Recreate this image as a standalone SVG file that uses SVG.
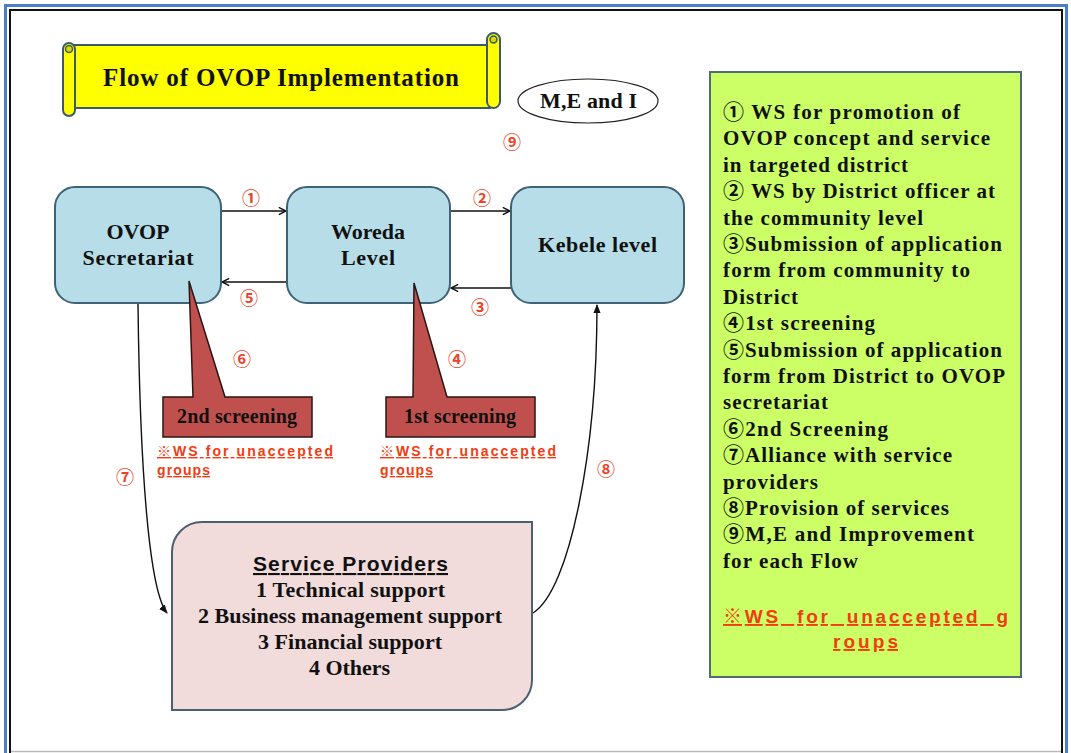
<svg xmlns="http://www.w3.org/2000/svg" width="1071" height="753" viewBox="0 0 1071 753">
  <style>
    .serif { font-family: "Liberation Serif", "Noto Sans CJK JP", serif; font-weight: bold; fill: #111; }
    .sans { font-family: "Liberation Sans", "Noto Sans CJK JP", sans-serif; font-weight: bold; }
    .num { font-family: "Noto Sans CJK JP", "DejaVu Sans", sans-serif; font-size: 18px; font-weight: bold; fill: #E8452A; text-anchor: middle; }
    .box { fill: #B7DEE8; stroke: #3E6276; stroke-width: 2; }
    .callout { fill: #C0504D; stroke: #2A1414; stroke-width: 1.5; }
    .warn { font-family: "Liberation Sans", "Noto Sans CJK JP", sans-serif; font-weight: bold; font-size: 14px; fill: #F23C12; text-decoration: underline; }
    .conn { fill: none; stroke: #111; stroke-width: 1.4; }
    .legend { font-size: 21px; }
  </style>
  <defs>
    <marker id="openHead" viewBox="0 0 10 10" refX="9" refY="5" markerWidth="9" markerHeight="9" orient="auto" markerUnits="userSpaceOnUse">
      <path d="M1,1 L9,5 L1,9" fill="none" stroke="#111" stroke-width="1.6"/>
    </marker>
    <marker id="solidHead" viewBox="0 0 10 10" refX="9" refY="5" markerWidth="9" markerHeight="9" orient="auto" markerUnits="userSpaceOnUse">
      <path d="M0,1 L10,5 L0,9 Z" fill="#111"/>
    </marker>
  </defs>

  <!-- page background and double frame -->
  <rect x="0" y="0" width="1071" height="753" fill="#ffffff"/>
  <rect x="5.5" y="5.5" width="1061" height="760" fill="none" stroke="#4A7EC9" stroke-width="3"/>
  <rect x="10" y="10" width="1052" height="752" fill="none" stroke="#111" stroke-width="2"/>
  <line x1="11" y1="751.5" x2="1061" y2="751.5" stroke="#BBBBBB" stroke-width="1.5"/>

  <!-- title scroll -->
  <g id="title">
    <rect x="72" y="45" width="418" height="63" fill="#FFFF00" stroke="#3B5A6B" stroke-width="2"/>
    <rect x="487" y="33" width="13" height="75" rx="6.5" fill="#FFFF00" stroke="#3B5A6B" stroke-width="2"/>
    <circle cx="493.5" cy="39.5" r="3.5" fill="#D8D800" stroke="#3B5A6B" stroke-width="1.5"/>
    <rect x="63" y="43" width="12" height="73" rx="6" fill="#FFFF00" stroke="#3B5A6B" stroke-width="2"/>
    <circle cx="69" cy="49" r="3.5" fill="#D8D800" stroke="#3B5A6B" stroke-width="1.5"/>
    <text class="serif" x="103" y="86" font-size="25" textLength="356" lengthAdjust="spacing">Flow of OVOP Implementation</text>
  </g>

  <!-- monitoring ellipse -->
  <g id="monitoring">
    <ellipse cx="588" cy="101" rx="70" ry="22" fill="#fff" stroke="#222" stroke-width="1.2"/>
    <text class="serif" x="540" y="108" font-size="22" textLength="97" lengthAdjust="spacing">M,E and I</text>
    <text class="num" x="512" y="149">⑨</text>
  </g>

  <!-- connectors -->
  <g id="connectors">
    <line class="conn" x1="221" y1="211" x2="286" y2="211" marker-end="url(#openHead)"/>
    <line class="conn" x1="450" y1="211" x2="510" y2="211" marker-end="url(#openHead)"/>
    <line class="conn" x1="287" y1="282" x2="222" y2="282" marker-end="url(#openHead)"/>
    <line class="conn" x1="511" y1="288" x2="451" y2="288" marker-end="url(#openHead)"/>
    <path class="conn" d="M138,304 C140,480 150,592 167,613" marker-end="url(#solidHead)"/>
    <path class="conn" d="M533,613 C570,590 597,450 597,305" marker-end="url(#solidHead)"/>
  </g>

  <!-- flow step numbers -->
  <g id="step-numbers">
    <text class="num" x="251" y="205">①</text>
    <text class="num" x="482" y="205">②</text>
    <text class="num" x="480" y="314">③</text>
    <text class="num" x="457" y="366">④</text>
    <text class="num" x="249" y="305">⑤</text>
    <text class="num" x="242" y="366">⑥</text>
    <text class="num" x="125" y="484">⑦</text>
    <text class="num" x="606" y="476">⑧</text>
  </g>

  <g id="ovop-secretariat">
    <rect class="box" x="55" y="187" width="166" height="116" rx="20"/>
    <text class="serif" x="106.5" y="239" font-size="22" textLength="63" lengthAdjust="spacing">OVOP</text>
    <text class="serif" x="82.5" y="265" font-size="22" textLength="111" lengthAdjust="spacing">Secretariat</text>
  </g>

  <g id="woreda-level">
    <rect class="box" x="287" y="187" width="163" height="116" rx="20"/>
    <text class="serif" x="331" y="239" font-size="22" textLength="74" lengthAdjust="spacing">Woreda</text>
    <text class="serif" x="341" y="265" font-size="22" textLength="54" lengthAdjust="spacing">Level</text>
  </g>

  <g id="kebele-level">
    <rect class="box" x="511" y="187" width="173" height="116" rx="20"/>
    <text class="serif" x="538" y="252" font-size="22" textLength="119" lengthAdjust="spacing">Kebele level</text>
  </g>

  <g id="second-screening">
    <path class="callout" d="M163,397 H193 L189,281 L225,397 H312 V437 H163 Z"/>
    <text class="serif" x="177" y="423" font-size="20" textLength="120" lengthAdjust="spacing">2nd screening</text>
    <text class="warn" x="157" y="456" textLength="176" lengthAdjust="spacing">※WS for unaccepted</text>
    <text class="warn" x="157" y="475" textLength="53" lengthAdjust="spacing">groups</text>
  </g>

  <g id="first-screening">
    <path class="callout" d="M386,397 H413 L414,283 L447,397 H535 V437 H386 Z"/>
    <text class="serif" x="404" y="423" font-size="20" textLength="112" lengthAdjust="spacing">1st screening</text>
    <text class="warn" x="380" y="456" textLength="176" lengthAdjust="spacing">※WS for unaccepted</text>
    <text class="warn" x="380" y="475" textLength="53" lengthAdjust="spacing">groups</text>
  </g>

  <g id="service-providers">
    <path d="M202,522 H532 V680 A30,30 0 0 1 502,710 H172 V552 A30,30 0 0 1 202,522 Z" fill="#F2DCDB" stroke="#4A6072" stroke-width="2"/>
    <text class="sans" x="253" y="571" font-size="21" fill="#111" text-decoration="underline" textLength="195" lengthAdjust="spacing">Service  Providers</text>
    <text class="serif" x="256" y="597" font-size="22" textLength="189" lengthAdjust="spacing">1 Technical support</text>
    <text class="serif" x="198" y="623" font-size="22" textLength="304" lengthAdjust="spacing">2 Business management support</text>
    <text class="serif" x="258" y="649" font-size="22" textLength="184" lengthAdjust="spacing">3 Financial support</text>
    <text class="serif" x="309" y="675" font-size="22" textLength="81" lengthAdjust="spacing">4 Others</text>
  </g>

  <g id="legend">
    <rect x="710" y="72" width="311" height="605" fill="#CCFF66" stroke="#506A78" stroke-width="2"/>
    <g class="serif legend">
      <text x="723" y="119" textLength="237" lengthAdjust="spacing">① WS for promotion of</text>
      <text x="723" y="145.4" textLength="267" lengthAdjust="spacing">OVOP concept and service</text>
      <text x="723" y="171.8" textLength="185" lengthAdjust="spacing">in targeted district</text>
      <text x="723" y="198.2" textLength="272" lengthAdjust="spacing">② WS by District officer at</text>
      <text x="723" y="224.6" textLength="200" lengthAdjust="spacing">the community level</text>
      <text x="723" y="251" textLength="279" lengthAdjust="spacing">③Submission of application</text>
      <text x="723" y="277.4" textLength="247" lengthAdjust="spacing">form from community to</text>
      <text x="723" y="303.8" textLength="75" lengthAdjust="spacing">District</text>
      <text x="723" y="330.2" textLength="152" lengthAdjust="spacing">④1st screening</text>
      <text x="723" y="356.6" textLength="279" lengthAdjust="spacing">⑤Submission of application</text>
      <text x="723" y="383" textLength="282" lengthAdjust="spacing">form from District to OVOP</text>
      <text x="723" y="409.4" textLength="105" lengthAdjust="spacing">secretariat</text>
      <text x="723" y="435.8" textLength="165" lengthAdjust="spacing">⑥2nd Screening</text>
      <text x="723" y="462.2" textLength="229" lengthAdjust="spacing">⑦Alliance with service</text>
      <text x="723" y="488.6" textLength="95" lengthAdjust="spacing">providers</text>
      <text x="723" y="515" textLength="226" lengthAdjust="spacing">⑧Provision of services</text>
      <text x="723" y="541.4" textLength="251" lengthAdjust="spacing">⑨M,E and Improvement</text>
      <text x="723" y="567.8" textLength="135" lengthAdjust="spacing">for each Flow</text>
    </g>
    <text class="sans" x="723" y="623" font-size="19" fill="#F23C12" text-decoration="underline" word-spacing="8" textLength="285" lengthAdjust="spacing">※WS for unaccepted g</text>
    <text class="sans" x="833" y="648" font-size="19" fill="#F23C12" text-decoration="underline" textLength="65" lengthAdjust="spacing">roups</text>
  </g>
</svg>
